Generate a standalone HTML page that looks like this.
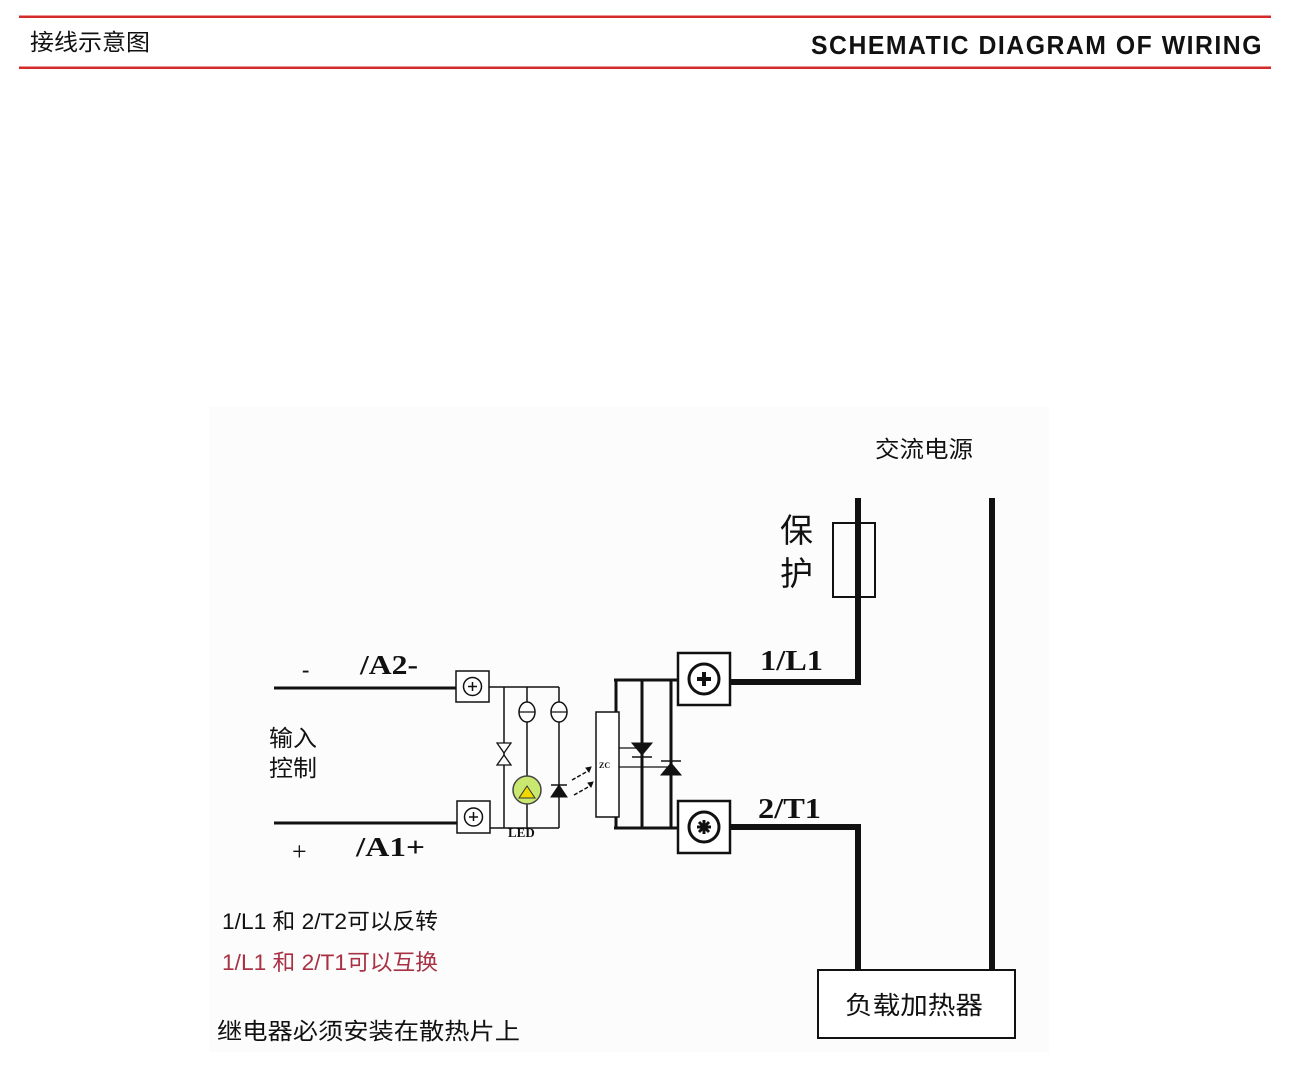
<!DOCTYPE html>
<html><head><meta charset="utf-8"><style>
html,body{margin:0;padding:0;background:#fff;}
svg{display:block;}
</style></head><body>
<svg width="1300" height="1086" viewBox="0 0 1300 1086" xmlns="http://www.w3.org/2000/svg">
<rect x="209" y="407" width="840" height="645" fill="#fcfcfc"/>
<rect x="19" y="15.5" width="1252" height="2.5" fill="#d42a2a"/>
<rect x="19" y="66.5" width="1252" height="2.5" fill="#d42a2a"/>
<text x="30" y="50" font-family="'Liberation Sans','Noto Sans CJK SC',sans-serif" font-size="23" fill="#111" textLength="120" lengthAdjust="spacingAndGlyphs">接线示意图</text>
<text x="1263" y="54" text-anchor="end" font-family="'Liberation Sans',sans-serif" font-size="26" font-weight="bold" letter-spacing="1.6" fill="#111" textLength="452" lengthAdjust="spacingAndGlyphs">SCHEMATIC DIAGRAM OF WIRING</text>

<g stroke="#111" fill="none">
<line x1="274" y1="688" x2="456" y2="688" stroke-width="3"/>
<line x1="274" y1="823" x2="457" y2="823" stroke-width="3"/>
<rect x="456" y="671" width="33" height="31" stroke-width="1.5" fill="#fff"/>
<circle cx="472.5" cy="686.5" r="9" stroke-width="1.5"/>
<rect x="457" y="801" width="33" height="32" stroke-width="1.5" fill="#fff"/>
<circle cx="473.5" cy="817" r="9" stroke-width="1.5"/>
<path d="M468 686.5h9M472.5 682v9M469 817h9M473.5 812v9" stroke-width="1.5"/>
<path d="M489 687H559M490 828H559M504 687V828M527 687V828M559 687V828" stroke-width="1.5"/>
<ellipse cx="527" cy="712" rx="8" ry="10" stroke-width="1.5" fill="#fff"/>
<ellipse cx="559" cy="712" rx="8" ry="10" stroke-width="1.5" fill="#fff"/>
<path d="M519 712h16M551 712h16" stroke-width="1.2"/>
<path d="M497 743h14l-7 10zM497 765h14l-7-10z" stroke-width="1.3" fill="#fff"/>
<circle cx="527" cy="790" r="14" fill="#c8e870" stroke="#444" stroke-width="1.5"/>
<path d="M519 798l8-12 8 12z" fill="#f0d800" stroke="#333" stroke-width="1"/>
<path d="M551 797h16l-8-12z" fill="#111" stroke-width="1"/>
<path d="M551 785h16" stroke-width="1.5"/>
<path d="M572 780l16-9M574 795l16-9" stroke-width="1.5" stroke-dasharray="4 2"/>
<path d="M586 768l5-1-2 5zM588 783l5-1-2 5z" fill="#111" stroke-width="1"/>
<rect x="596" y="712" width="23" height="105" stroke-width="1.5" fill="#fff"/>
<path d="M614 680H678M614 828H678M616 680V712M616 817V828" stroke-width="3"/>
<path d="M642 680V828M671 680V828" stroke-width="3"/>
<path d="M619 748H642M619 767H671" stroke-width="1.3"/>
<path d="M632 743h20l-10 12z" fill="#111" stroke-width="1"/>
<path d="M632 757h20" stroke-width="1.5"/>
<path d="M661 775h20l-10-12z" fill="#111" stroke-width="1"/>
<path d="M661 761h20" stroke-width="1.5"/>
<rect x="678" y="653" width="52" height="52" stroke-width="2.5" fill="#fff"/>
<circle cx="704" cy="679" r="15" stroke-width="3"/>
<path d="M697 679h14M704 672v14" stroke-width="4"/>
<rect x="678" y="801" width="52" height="52" stroke-width="2.5" fill="#fff"/>
<circle cx="704" cy="827" r="15" stroke-width="3"/>
<path d="M697 827h14M704 820v14M699 822l10 10M709 822l-10 10" stroke-width="3"/>
<path d="M730 682H858V498" stroke-width="6"/>
<path d="M730 827H858V970" stroke-width="6"/>
<path d="M992 498V970" stroke-width="6"/>
<rect x="833" y="523" width="42" height="74" stroke-width="2"/>
<rect x="818" y="970" width="197" height="68" stroke-width="2" fill="#fff"/>
</g>

<g font-family="'Liberation Sans','Noto Sans CJK SC',sans-serif" fill="#111">
<text x="875" y="457" font-size="23" textLength="98" lengthAdjust="spacingAndGlyphs">交流电源</text>
<text x="780" y="542" font-size="33">保</text>
<text x="780" y="585" font-size="33">护</text>
<text x="269" y="746" font-size="23" textLength="48" lengthAdjust="spacingAndGlyphs">输入</text>
<text x="269" y="776" font-size="23" textLength="48" lengthAdjust="spacingAndGlyphs">控制</text>
<text x="222" y="929" font-size="22" textLength="216" lengthAdjust="spacingAndGlyphs">1/L1 和 2/T2可以反转</text>
<text x="222" y="970" font-size="22" fill="#a83244" textLength="216" lengthAdjust="spacingAndGlyphs">1/L1 和 2/T1可以互换</text>
<text x="217" y="1039" font-size="23" textLength="303" lengthAdjust="spacingAndGlyphs">继电器必须安装在散热片上</text>
<text x="845" y="1014" font-size="25" textLength="138" lengthAdjust="spacingAndGlyphs">负载加热器</text>
</g>
<g font-family="'Liberation Serif',serif" font-weight="bold" fill="#111">
<text x="302" y="677" font-size="22">-</text>
<text x="360" y="674" font-size="27" textLength="58" lengthAdjust="spacingAndGlyphs">/A2-</text>
<text x="292" y="860" font-size="26" font-weight="normal">+</text>
<text x="356" y="856" font-size="27" textLength="69" lengthAdjust="spacingAndGlyphs">/A1+</text>
<text x="760" y="670" font-size="29" textLength="63" lengthAdjust="spacingAndGlyphs">1/L1</text>
<text x="758" y="818" font-size="29" textLength="63" lengthAdjust="spacingAndGlyphs">2/T1</text>
<text x="508" y="837" font-size="13">LED</text>
<text x="599" y="768" font-size="8">ZC</text>
</g>
</svg>
</body></html>
